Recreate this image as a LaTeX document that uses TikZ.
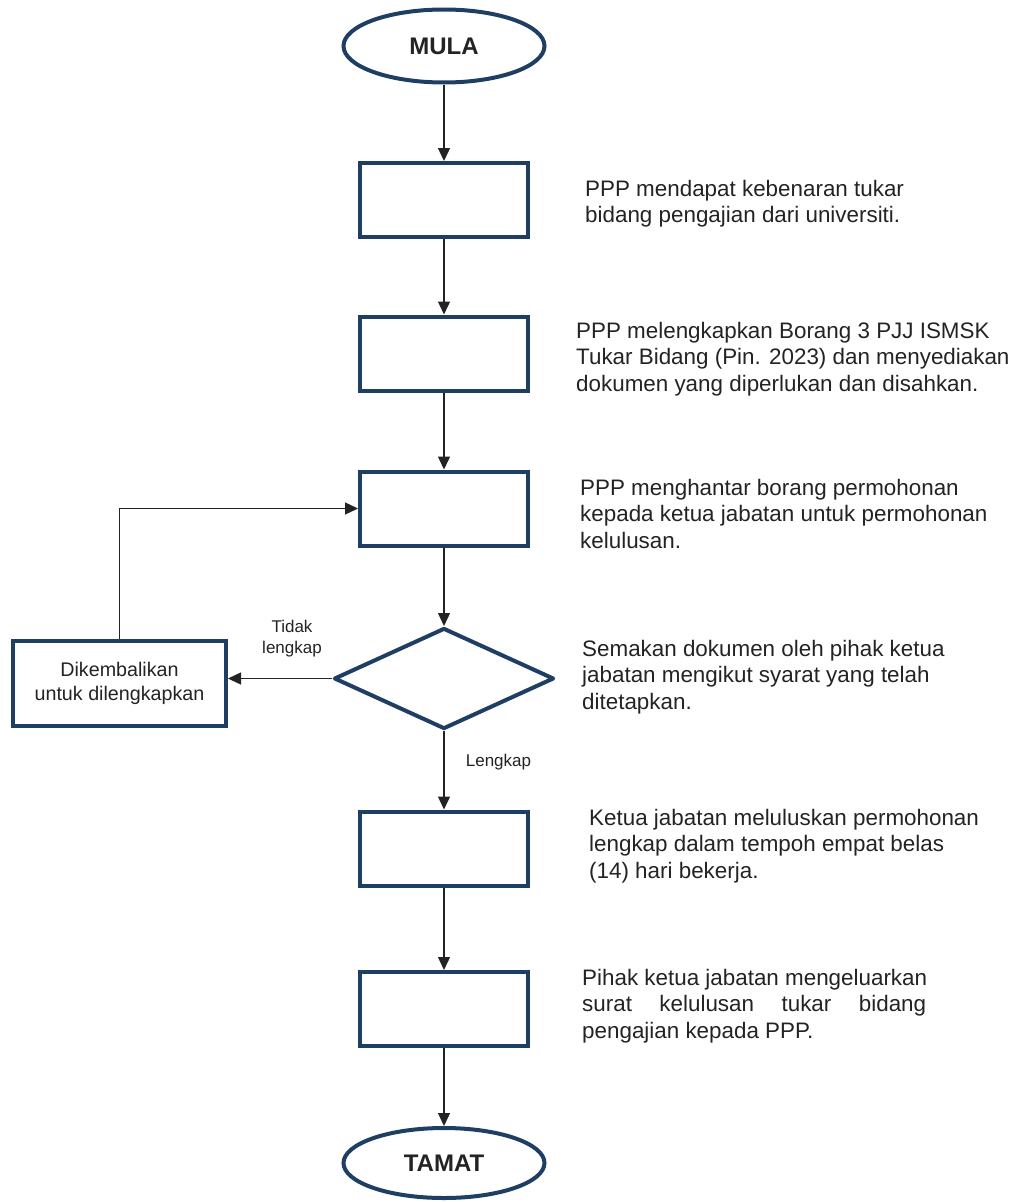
\documentclass[tikz,border=0pt]{standalone}
\usepackage{fontspec}
\setmainfont{Liberation Sans}
\usetikzlibrary{shapes.geometric,arrows.meta}
\definecolor{navy}{RGB}{30,62,100}
\definecolor{ink}{RGB}{35,35,35}
\begin{document}
\begin{tikzpicture}[x=1pt,y=-1pt,
  stepbox/.style={draw=navy,line width=4pt,rectangle,minimum width=168pt,minimum height=74pt,inner sep=0pt},
  term/.style={draw=navy,line width=4pt,ellipse,minimum width=201pt,minimum height=73pt,inner sep=0pt,font=\fontsize{24}{28}\selectfont\bfseries,text=ink},
  decide/.style={draw=navy,line width=4pt,diamond,minimum width=220pt,minimum height=101pt,inner sep=0pt,line join=round},
  sidebox/.style={draw=navy,line width=4pt,rectangle,minimum width=213pt,minimum height=85pt,inner sep=0pt,align=center,font=\fontsize{19.7}{24}\selectfont,text=ink},
  desc/.style={anchor=north west,align=left,inner sep=0pt,font=\fontsize{22.4}{26.5}\selectfont,text=ink},
  lbl/.style={align=center,inner sep=0pt,font=\fontsize{17}{21}\selectfont,text=ink},
  flow/.style={draw=ink,line width=1.3pt,-{Triangle[length=13pt,width=12pt]}}
]
\useasboundingbox (0,0) rectangle (1015,1202);

\node[term] (mula) at (444,46) {MULA};
\node[stepbox] (b1) at (444,200) {};
\node[stepbox] (b2) at (444,353.5) {};
\node[stepbox] (b3) at (444,508.5) {};
\node[decide] (dia) at (444,678.5) {};
\node[stepbox] (b5) at (444,848.5) {};
\node[stepbox] (b6) at (444,1009) {};
\node[term,minimum height=70pt] (tamat) at (444,1163) {TAMAT};
\node[sidebox] (lb) at (119.5,683) {Dikembalikan\\untuk dilengkapkan};

\node[desc] (t1) at (585,180) {PPP mendapat kebenaran tukar\\bidang pengajian dari universiti.};
\node[desc] (t2) at (576,322) {PPP melengkapkan Borang 3 PJJ ISMSK\\Tukar Bidang (Pin. 2023) dan menyediakan\\dokumen yang diperlukan dan disahkan.};
\node[desc] (t3) at (580,479) {PPP menghantar borang permohonan\\kepada ketua jabatan untuk permohonan\\kelulusan.};
\node[desc] (t4) at (582,640) {Semakan dokumen oleh pihak ketua\\jabatan mengikut syarat yang telah\\ditetapkan.};
\node[desc] (t5) at (589,809) {Ketua jabatan meluluskan permohonan\\lengkap dalam tempoh empat belas\\(14) hari bekerja.};
\node[desc] (t6) at (582,969) {Pihak ketua jabatan mengeluarkan\\\hbox to 344pt{surat\hfill kelulusan\hfill tukar\hfill bidang}\\pengajian kepada PPP.};

\node[lbl] (tl) at (292,638.5) {Tidak\\lengkap};
\node[lbl] (lk) at (498.5,762) {Lengkap};

\draw[flow] (mula.south) -- (b1.north);
\draw[flow] (b1.south) -- (b2.north);
\draw[flow] (b2.south) -- (b3.north);
\draw[flow] (b3.south) -- (dia.north);
\draw[flow] (dia.south) -- (b5.north);
\draw[flow] (b5.south) -- (b6.north);
\draw[flow] (b6.south) -- (tamat.north);
\draw[flow] (dia.west) -- (dia.west -| lb.east);
\draw[flow] (lb.north) |- (b3.west);
\end{tikzpicture}
\end{document}
